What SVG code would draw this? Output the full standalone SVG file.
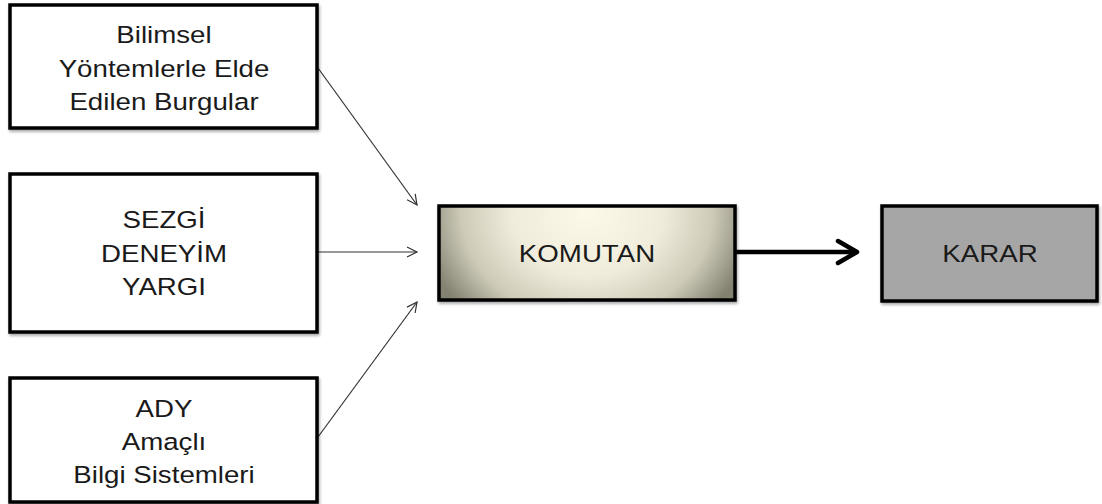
<svg xmlns="http://www.w3.org/2000/svg" width="1102" height="504" viewBox="0 0 1102 504">
<style>
.box{fill:#fff;stroke:#000;stroke-width:3.5}
.t{font-family:"Liberation Sans",Arial,sans-serif;font-size:24.5px;fill:#1a1a1a;text-anchor:middle}
.thin{stroke:#333;stroke-width:1.2;fill:none}
</style>
<defs>
<radialGradient id="g" gradientUnits="userSpaceOnUse" cx="587" cy="212" r="168" gradientTransform="translate(587 212) scale(1 0.85) translate(-587 -212)">
<stop offset="0" stop-color="#FCF9E9"/>
<stop offset="0.45" stop-color="#EFECDB"/>
<stop offset="0.75" stop-color="#CDCAB8"/>
<stop offset="1" stop-color="#838170"/>
</radialGradient>
<filter id="sh" x="-10%" y="-10%" width="120%" height="130%">
<feGaussianBlur in="SourceAlpha" stdDeviation="1.5"/>
<feOffset dx="1" dy="2" result="b"/>
<feComponentTransfer><feFuncA type="linear" slope="0.35"/></feComponentTransfer>
<feMerge><feMergeNode/><feMergeNode in="SourceGraphic"/></feMerge>
</filter>
<marker id="a" markerWidth="14" markerHeight="14" refX="11" refY="6" orient="auto" markerUnits="userSpaceOnUse">
<path d="M1,1 L11,6 L1,11" fill="none" stroke="#333" stroke-width="1.2"/>
</marker>
</defs>
<g id="connectors">
<line class="thin" x1="318" y1="68" x2="417" y2="205" marker-end="url(#a)"/>
<line class="thin" x1="318" y1="252" x2="417" y2="252" marker-end="url(#a)"/>
<line class="thin" x1="318" y1="437" x2="417" y2="302" marker-end="url(#a)"/>
<line x1="736" y1="252" x2="855" y2="252" stroke="#000" stroke-width="4.5"/>
<path d="M838,241 L857,252 L838,263" fill="none" stroke="#000" stroke-width="4.5" stroke-linecap="round" stroke-linejoin="round"/>
</g>
<g id="n1">
<rect class="box" x="10" y="5" width="307" height="123" filter="url(#sh)"/>
<g transform="translate(164 0) scale(1.13 1)">
<text class="t" x="0" y="43">Bilimsel</text>
<text class="t" x="0" y="77">Yöntemlerle Elde</text>
<text class="t" x="0" y="110">Edilen Burgular</text>
</g>
</g>
<g id="n2">
<rect class="box" x="10" y="174" width="307" height="158" filter="url(#sh)"/>
<g transform="translate(164 0) scale(1.13 1)">
<text class="t" x="0" y="228">SEZGİ</text>
<text class="t" x="0" y="262">DENEYİM</text>
<text class="t" x="0" y="295">YARGI</text>
</g>
</g>
<g id="n3">
<rect class="box" x="10" y="378" width="307" height="124" filter="url(#sh)"/>
<g transform="translate(164 0) scale(1.13 1)">
<text class="t" x="0" y="417">ADY</text>
<text class="t" x="0" y="450">Amaçlı</text>
<text class="t" x="0" y="483">Bilgi Sistemleri</text>
</g>
</g>
<g id="komutan">
<rect x="439" y="206" width="296" height="94" fill="url(#g)" stroke="#000" stroke-width="3.5" filter="url(#sh)"/>
<g transform="translate(587 0) scale(1.13 1)">
<text class="t" x="0" y="262">KOMUTAN</text>
</g>
</g>
<g id="karar">
<rect x="882" y="206" width="215" height="95" fill="#A6A6A6" stroke="#000" stroke-width="3.5" filter="url(#sh)"/>
<g transform="translate(990 0) scale(1.13 1)">
<text class="t" x="0" y="262">KARAR</text>
</g>
</g>
</svg>
